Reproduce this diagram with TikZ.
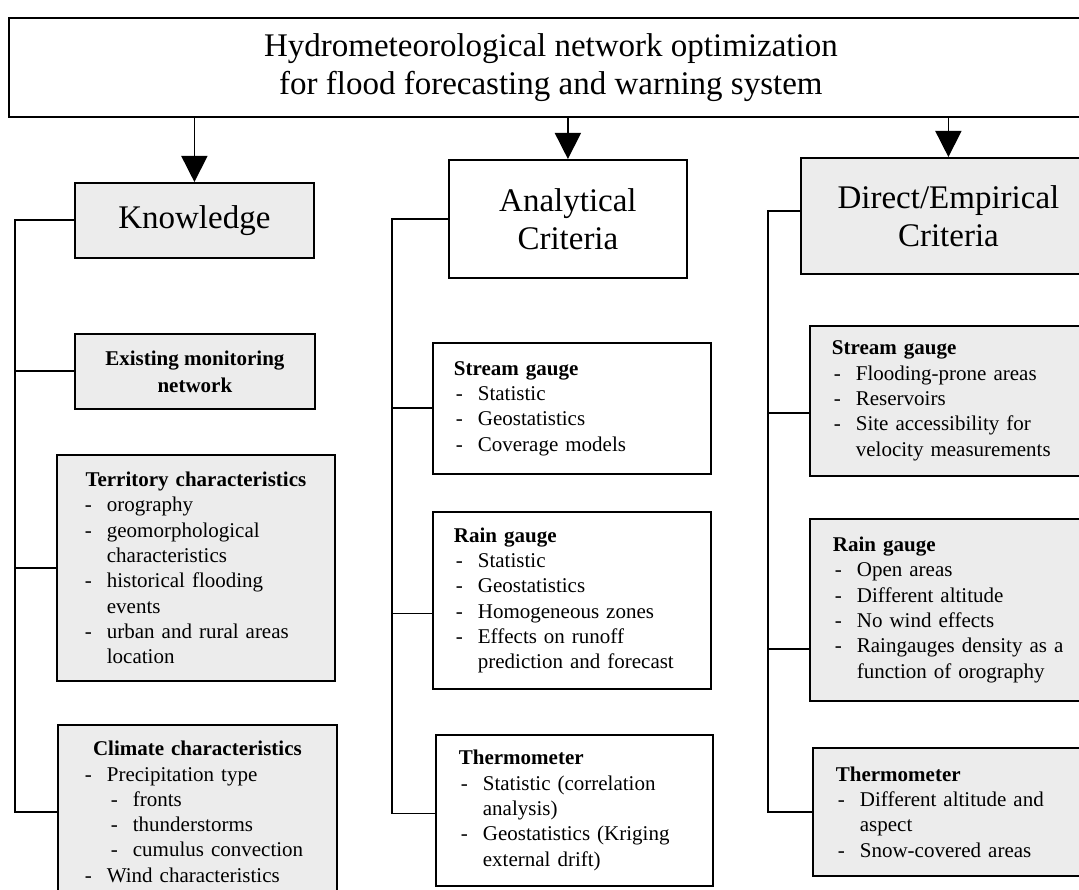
\documentclass[tikz,border=0pt]{standalone}
\usepackage{fontspec}
\setmainfont{Liberation Serif}
\usetikzlibrary{arrows.meta}
\definecolor{boxgray}{RGB}{236,236,236}
% list lines inside the boxes
\newcommand{\itm}[1]{\par\noindent\makebox[24pt][l]{\hspace{2pt}-}#1}
\newcommand{\cnt}[1]{\par\noindent\hspace*{24pt}#1}
\newcommand{\sitm}[1]{\par\noindent\hspace*{28pt}\makebox[22pt][l]{-}#1}
\tikzset{
  box/.style={draw,line width=1.8pt,anchor=north west,inner ysep=0pt,font=\fontsize{21}{25.3}\selectfont},
  shaded/.style={fill=boxgray},
  headbox/.style={box,align=center,font=\fontsize{33}{38}\selectfont},
  link/.style={line width=1.8pt},
  arr/.style={line width=1.6pt,-{Triangle[length=26pt,width=26pt]}}
}
\begin{document}
\begin{tikzpicture}[x=1pt,y=-1pt]
    \useasboundingbox (0,0) rectangle (1079,890);
    \clip (0,0) rectangle (1079,890);
    % Top box and the three branches
    \node[headbox,minimum width=1084pt,minimum height=99pt] (title) at (8,17) {Hydrometeorological network optimization\\for flood forecasting and warning system};
    \node[headbox,shaded,minimum width=239pt,minimum height=75pt] (know) at (74,182) {Knowledge};
    \node[headbox,minimum width=238pt,minimum height=118pt] (anal) at (448,159) {Analytical\\Criteria};
    \node[headbox,shaded,minimum width=295pt,minimum height=116pt] (dir) at (800,157) {Direct/Empirical\\Criteria};
    \foreach \n in {know,anal,dir} {
        \draw[arr] (title.south -| \n.north) -- (\n.north);
    }
    % Knowledge column
    \node[box,shaded,align=center,font=\fontsize{21}{27}\selectfont\bfseries,minimum width=240pt,minimum height=75pt] (exist) at (74,333) {Existing monitoring\\network};
    \node[box,shaded,inner xsep=26pt,text width=226pt,minimum height=226pt] (terr) at (56,454) {%
        {\centering\textbf{Territory characteristics}\par}
        \itm{orography}
        \itm{geomorphological}\cnt{characteristics}
        \itm{historical flooding}\cnt{events}
        \itm{urban and rural areas}\cnt{location}};
    \node[box,shaded,inner xsep=25pt,text width=229pt,minimum height=174pt] (clim) at (57,724) {%
        {\centering\textbf{Climate characteristics}\par}
        \itm{Precipitation type}
        \sitm{fronts}
        \sitm{thunderstorms}
        \sitm{cumulus convection}
        \itm{Wind characteristics}};
    % Analytical column
    \node[box,inner xsep=21pt,text width=236pt,minimum height=131pt] (astr) at (432,342) {%
        \noindent\textbf{Stream gauge}
        \itm{Statistic}
        \itm{Geostatistics}
        \itm{Coverage models}};
    \node[box,inner xsep=21pt,text width=236pt,minimum height=177pt] (arain) at (432,511) {%
        \noindent\textbf{Rain gauge}
        \itm{Statistic}
        \itm{Geostatistics}
        \itm{Homogeneous zones}
        \itm{Effects on runoff}\cnt{prediction and forecast}};
    \node[box,inner xsep=23pt,text width=231pt,minimum height=151pt] (athm) at (435,734) {%
        \noindent\textbf{Thermometer}
        \itm{Statistic (correlation}\cnt{analysis)}
        \itm{Geostatistics (Kriging}\cnt{external drift)}};
    % Direct/Empirical column
    \node[box,shaded,inner xsep=22pt,text width=246pt,minimum height=150pt] (dstr) at (809,325) {%
        \noindent\textbf{Stream gauge}
        \itm{Flooding-prone areas}
        \itm{Reservoirs}
        \itm{Site accessibility for}\cnt{velocity measurements}};
    \node[box,shaded,inner xsep=23pt,text width=244pt,minimum height=182pt] (drain) at (809,518) {%
        \noindent\textbf{Rain gauge}
        \itm{Open areas}
        \itm{Different altitude}
        \itm{No wind effects}
        \itm{Raingauges density as a}\cnt{function of orography}};
    \node[box,shaded,inner xsep=23pt,text width=241pt,minimum height=128pt] (dthm) at (812,747) {%
        \noindent\textbf{Thermometer}
        \itm{Different altitude and}\cnt{aspect}
        \itm{Snow-covered areas}};
    % Tree lines
    \path (clim.west) ++(-42,0) coordinate (kbot);
    \draw[link] (know.west) -| (kbot) -- (clim.west);
    \draw[link] (exist.west) -- (exist.west -| kbot);
    \draw[link] (terr.west) -- (terr.west -| kbot);
    \path ([yshift=-3pt]athm.west) ++(-43,0) coordinate (abot);
    \draw[link] (anal.west) -| (abot) -- ([yshift=-3pt]athm.west);
    \draw[link] (astr.west) -- (astr.west -| abot);
    \draw[link] ([yshift=-13pt]arain.west) coordinate (ar) -- (ar -| abot);
    \path (dthm.west) ++(-44,0) coordinate (dbot);
    \draw[link] ([yshift=5pt]dir.west) -| (dbot) -- (dthm.west);
    \draw[link] ([yshift=-12pt]dstr.west) coordinate (ds) -- (ds -| dbot);
    \draw[link] ([yshift=-39pt]drain.west) coordinate (dr) -- (dr -| dbot);
\end{tikzpicture}
\end{document}
